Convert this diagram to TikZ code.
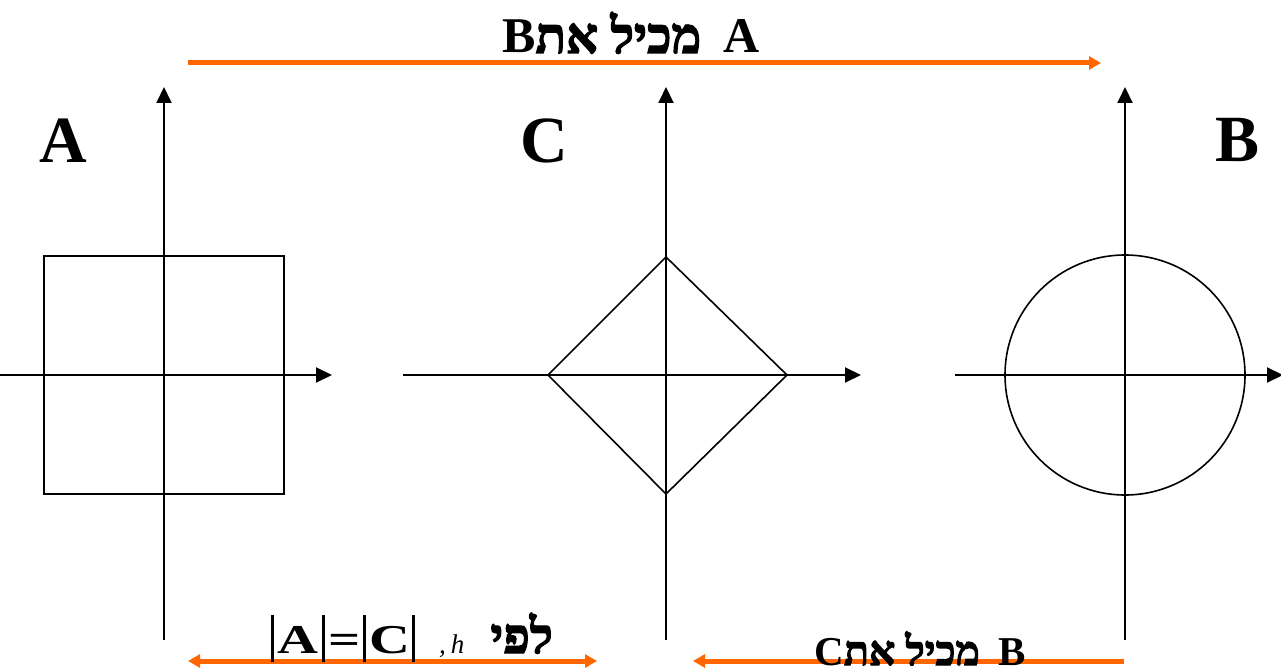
\documentclass[tikz,border=0pt]{standalone}
\usepackage{fontspec}
\usepackage{graphicx}
\setmainfont{Liberation Serif}
\newfontfamily\hebfont[Script=Hebrew,FakeBold=2.5]{Liberation Serif}
\TeXXeTstate=1
\usetikzlibrary{arrows.meta}
\definecolor{arroworange}{RGB}{255,102,0}
\newcommand{\absbar}{\rule[-9pt]{3pt}{47pt}}
\newcommand{\wideit}[1]{\scalebox{1.38}[1]{#1}}
\begin{document}
\begin{tikzpicture}[x=1pt,y=-1pt,
  axis/.style={line width=2pt,-{Triangle[length=16pt,width=15pt]}},
  shapeline/.style={line width=1.6pt},
  relarrow/.style={arroworange,line width=5pt},
  orangetip/.style={-{Triangle[length=12pt,width=13pt]}},
  bigletter/.style={font=\fontsize{66}{70}\selectfont\bfseries,inner sep=0pt,anchor=base},
  toplabel/.style={font=\fontsize{50}{54}\selectfont\bfseries,inner sep=0pt,anchor=base},
  botlabel/.style={font=\fontsize{41}{44}\selectfont\bfseries,inner sep=0pt,anchor=base}]
\useasboundingbox (0,0) rectangle (1281,671);

% Panel A axes and square
\coordinate (Ay0) at (164,640); \coordinate (Ay1) at (164,87);
\coordinate (Ax0) at (0,375);   \coordinate (Ax1) at (332,375);
\draw[axis] (Ay0) -- (Ay1);
\draw[axis] (Ax0) -- (Ax1);
\node[draw,shapeline,minimum width=240pt,minimum height=238pt,inner sep=0pt] (sq) at (164,375) {};

% Panel C axes and diamond
\coordinate (Cy0) at (666,640); \coordinate (Cy1) at (666,87);
\coordinate (Cx0) at (403,375); \coordinate (Cx1) at (861,375);
\draw[axis] (Cy0) -- (Cy1);
\draw[axis] (Cx0) -- (Cx1);
\coordinate (dl) at (548,375); \coordinate (dt) at (666,257);
\coordinate (dr) at (787,375); \coordinate (db) at (666,494);
\draw[shapeline,line join=miter] (dl) -- (dt) -- (dr) -- (db) -- cycle;

% Panel B axes and circle
\coordinate (By0) at (1125,640); \coordinate (By1) at (1125,87);
\coordinate (Bx0) at (955,375);  \coordinate (Bx1) at (1283,375);
\draw[axis] (By0) -- (By1);
\draw[axis] (Bx0) -- (Bx1);
\node[draw,shapeline,circle,minimum size=240pt,inner sep=0pt] (circ) at (1125,375) {};

% Panel letters
\node[bigletter] (labA) at (63,163) {A};
\node[bigletter] (labC) at (544,163) {C};
\node[bigletter] (labB) at (1237,162) {B};

% Orange relation arrows
\coordinate (t0) at (188,63);  \coordinate (t1) at (1101,63);
\draw[relarrow,orangetip] (t0) -- (t1);
\coordinate (l0) at (188,661); \coordinate (l1) at (597,661);
\draw[relarrow,{Triangle[length=12pt,width=13pt]}-{Triangle[length=12pt,width=13pt]}] (l0) -- (l1);
\coordinate (r0) at (1124,661); \coordinate (r1) at (693,661);
\draw[relarrow,orangetip] (r0) -- (r1);

% Relation labels
\node[toplabel] (toptext) at (631,53) {\beginR A\hspace{0.45em}{\hebfont מכיל את}B\endR};
\node[botlabel,anchor=base west] (eqtext) at (271,653)
  {\absbar\hspace{3pt}\wideit{A}\hspace{4pt}\absbar\hspace{3pt}\wideit{=}\hspace{3pt}\absbar\hspace{3pt}\wideit{C}\hspace{2pt}\absbar\hspace{24pt}{\mdseries\itshape\fontsize{27}{30}\selectfont ,\hspace{5pt}h}\hspace{26pt}{\hebfont\fontsize{49}{52}\selectfont\beginR לפי\endR}};
\node[botlabel] (bottext) at (920,665) {\beginR B\hspace{0.45em}{\hebfont מכיל את}C\endR};
\end{tikzpicture}
\end{document}
